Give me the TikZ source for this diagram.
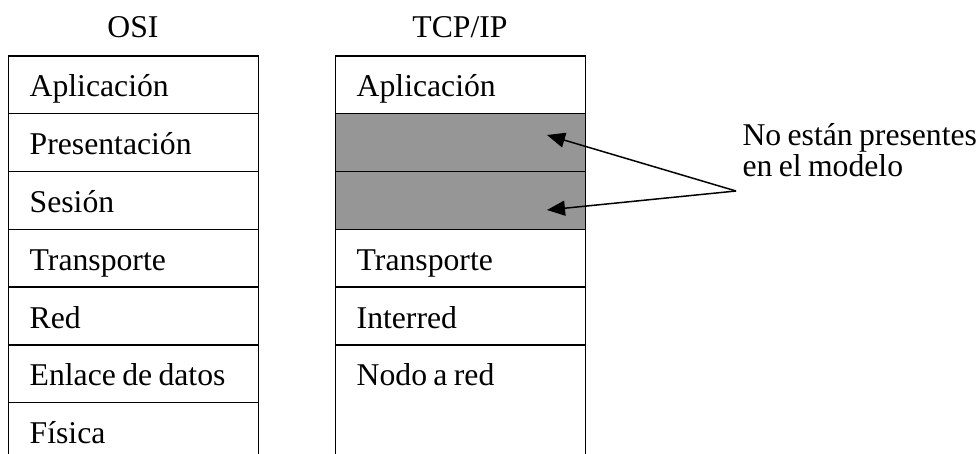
\documentclass[tikz,border=0pt]{standalone}
\usepackage{fontspec}
\setmainfont{Liberation Serif}[WordSpace=0.8]
\usetikzlibrary{arrows.meta}
\definecolor{absent}{RGB}{150,150,150}
% layer caption, set flush left in the inner width of a layer box
\newcommand\layertext[1]{\makebox[208pt][l]{#1}}
\begin{document}
\begin{tikzpicture}[x=1pt,y=-1pt,
  font=\fontsize{31.7}{29}\selectfont,
  layer/.style={draw=black, line width=1.4pt, anchor=north west,
    inner xsep=21pt, inner ysep=0pt,
    text height=41pt, text depth=16.8pt, minimum width=250pt},
  tall/.style={text depth=74.6pt},
  missing/.style={fill=absent},
  title/.style={anchor=base},
  pointer/.style={line width=1.5pt, -{Triangle[length=18pt,width=15pt]}}]
  \useasboundingbox (0,0) rectangle (980,454);

  % column titles
  \node[title] (osi) at (133,38) {OSI};
  \node[title] (tcp) at (460,38) {TCP/IP};

  % OSI reference model: seven layers
  \node[layer] (o1) at (8,55.2)  {\layertext{Aplicación}};
  \node[layer] (o2) at (8,113)   {\layertext{Presentación}};
  \node[layer] (o3) at (8,170.8) {\layertext{Sesión}};
  \node[layer] (o4) at (8,228.6) {\layertext{Transporte}};
  \node[layer] (o5) at (8,286.4) {\layertext{Red}};
  \node[layer] (o6) at (8,344.2) {\layertext{Enlace de datos}};
  \node[layer] (o7) at (8,402)   {\layertext{Física}};

  % TCP/IP model: four layers, two empty slots
  \node[layer] (t1) at (335,55.2)  {\layertext{Aplicación}};
  \node[layer,missing] (t2) at (335,113)   {\layertext{}};
  \node[layer,missing] (t3) at (335,170.8) {\layertext{}};
  \node[layer] (t4) at (335,228.6) {\layertext{Transporte}};
  \node[layer] (t5) at (335,286.4) {\layertext{Interred}};
  \node[layer,tall] (t6) at (335,344.2) {\layertext{Nodo a red}};

  % annotation for the missing layers
  \node[anchor=base west, align=left] (note) at (739,177)
    {No están presentes\\[2pt]en el modelo};
  \coordinate (fork) at (736,191);
  \coordinate (tipA) at (547,135);
  \coordinate (tipB) at (547,210);
  \draw[pointer] (fork) -- (tipA);
  \draw[pointer] (fork) -- (tipB);
\end{tikzpicture}
\end{document}
